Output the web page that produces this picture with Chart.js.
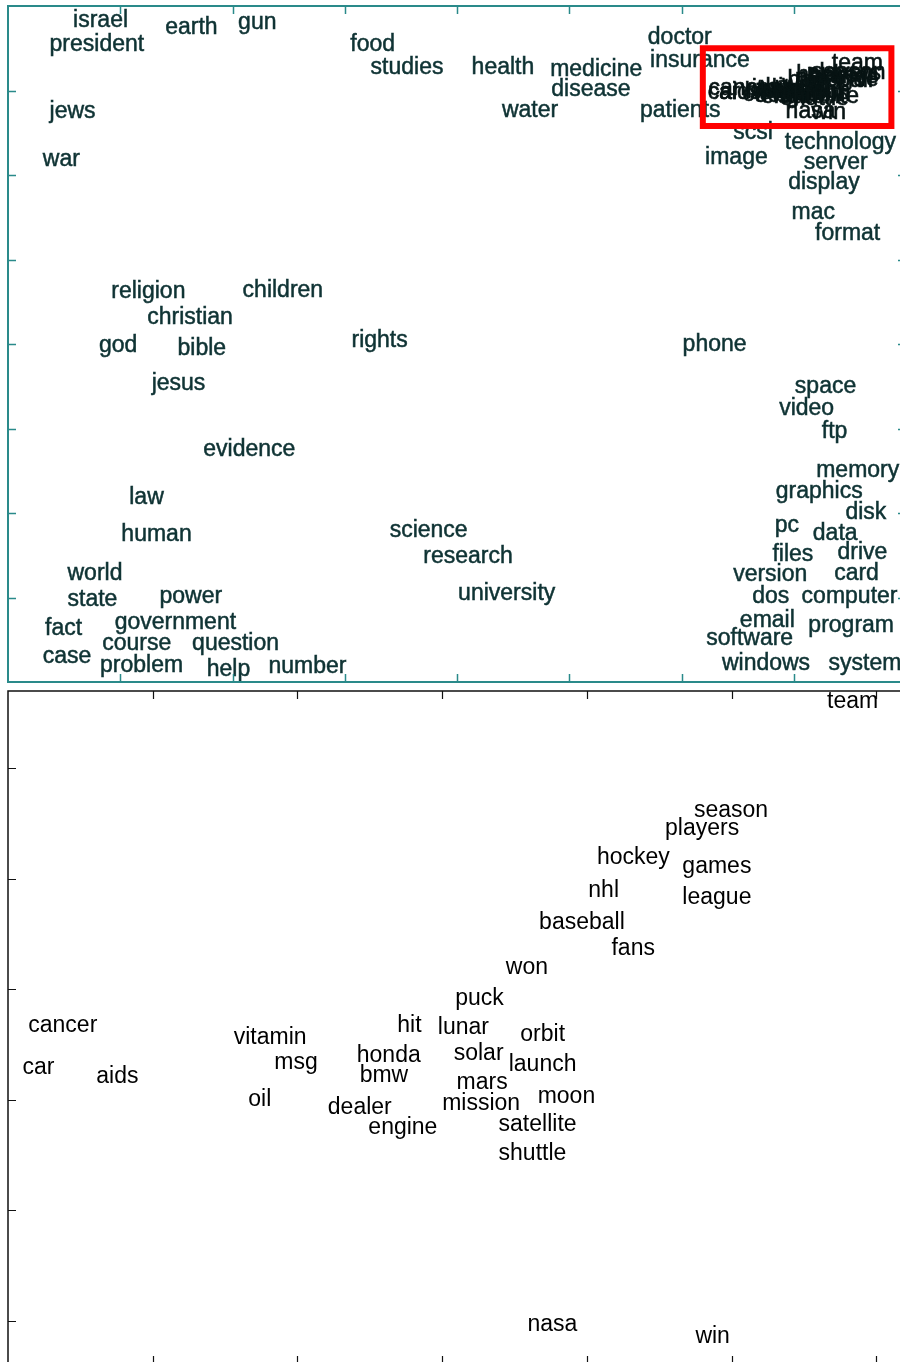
<!DOCTYPE html>
<html>
<head>
<meta charset="utf-8">
<script src="https://cdn.jsdelivr.net/npm/chart.js@4.4.1/dist/chart.umd.min.js"></script>
<style>
  html, body { margin: 0; padding: 0; background: #fff; overflow: hidden; width: 900px; height: 1362px; }
  #wrap { position: relative; width: 900px; height: 1362px; overflow: hidden; }
  #topChart { position: absolute; left: 0; top: 0; }
  #zoomChart { position: absolute; left: 0; top: 686px; }
</style>
</head>
<body>
<div id="wrap">
  <canvas id="topChart" width="910" height="686"></canvas>
  <canvas id="zoomChart" width="1030" height="690"></canvas>
</div>
<script>
// --- top panel: whole word map ---
const topWords = ['israel', 'president', 'earth', 'gun', 'food', 'studies', 'health', 'medicine', 'disease', 'water',
  'doctor', 'insurance', 'patients', 'scsi', 'technology', 'image', 'server', 'display', 'mac', 'format',
  'jews', 'war', 'religion', 'children', 'christian', 'god', 'bible', 'rights', 'jesus', 'phone',
  'space', 'video', 'ftp', 'evidence', 'law', 'human', 'science', 'research', 'university', 'world',
  'state', 'power', 'fact', 'government', 'course', 'question', 'case', 'problem', 'help', 'number',
  'memory', 'graphics', 'disk', 'pc', 'data', 'files', 'drive', 'version', 'card', 'dos',
  'computer', 'email', 'program', 'software', 'windows', 'system'];
const topX = [0.58, 0.37, 1.40, 2.05, 3.05, 3.23, 4.13, 4.83, 4.84, 4.40,
  5.70, 5.72, 5.63, 6.46, 6.92, 6.21, 7.09, 6.95, 6.98, 7.19,
  0.37, 0.31, 0.92, 2.09, 1.24, 0.81, 1.51, 3.06, 1.28, 6.01,
  7.01, 6.87, 7.25, 1.74, 1.08, 1.01, 3.40, 3.70, 4.01, 0.53,
  0.53, 1.35, 0.33, 0.95, 0.84, 1.64, 0.31, 0.82, 1.77, 2.32,
  7.20, 6.84, 7.46, 6.83, 7.17, 6.81, 7.39, 6.46, 7.36, 6.63,
  7.07, 6.52, 7.13, 6.22, 6.36, 7.31];
const topY = [7.83, 7.54, 7.74, 7.80, 7.54, 7.27, 7.27, 7.25, 7.01, 6.76,
  7.62, 7.35, 6.76, 6.50, 6.38, 6.20, 6.15, 5.91, 5.56, 5.30,
  6.75, 6.18, 4.62, 4.63, 4.31, 3.98, 3.94, 4.04, 3.53, 3.99,
  3.49, 3.24, 2.96, 2.75, 2.18, 1.74, 1.79, 1.48, 1.05, 1.28,
  0.98, 1.01, 0.63, 0.70, 0.45, 0.45, 0.30, 0.19, 0.15, 0.18,
  2.50, 2.25, 2.00, 1.85, 1.75, 1.51, 1.53, 1.27, 1.28, 1.01,
  1.01, 0.73, 0.67, 0.51, 0.22, 0.22];
const topTicksX = [1, 2, 3, 4, 5, 6, 7];
const topTicksY = [1, 2, 3, 4, 5, 6, 7];

// --- bottom panel: zoom on the red box ---
const zoomWords = ['team', 'season', 'players', 'hockey', 'games', 'nhl', 'league', 'baseball', 'fans', 'won',
  'puck', 'cancer', 'car', 'aids', 'vitamin', 'msg', 'oil', 'hit', 'lunar', 'orbit',
  'honda', 'solar', 'launch', 'bmw', 'mars', 'moon', 'mission', 'dealer', 'engine', 'satellite',
  'shuttle', 'nasa', 'win'];
const zoomX = [5.66, 4.74, 4.54, 4.07, 4.66, 4.01, 4.66, 3.67, 4.17, 3.44,
  3.09, 0.14, 0.10, 0.61, 1.56, 1.84, 1.66, 2.69, 2.97, 3.54,
  2.41, 3.08, 3.46, 2.43, 3.10, 3.66, 3.00, 2.21, 2.49, 3.39,
  3.39, 3.59, 4.75];
const zoomY = [6.60, 5.62, 5.45, 5.19, 5.11, 4.89, 4.83, 4.60, 4.37, 4.20,
  3.92, 3.67, 3.29, 3.21, 3.56, 3.34, 3.00, 3.67, 3.65, 3.59,
  3.40, 3.42, 3.32, 3.22, 3.16, 3.03, 2.97, 2.93, 2.75, 2.78,
  2.51, 0.97, 0.86];
const zoomTicksX = [1, 2, 3, 4, 5, 6];
const zoomTicksY = [1, 2, 3, 4, 5, 6];

// red box (top panel units) and how the zoom panel maps into it
const boxX = [6.19, 7.87];
const boxY = [6.58, 7.50];
const mapX = { offset: 6.213, scale: 0.199 };
const mapY = { offset: 6.646, scale: 0.101 };

function points(xs, ys) {
  return xs.map((x, i) => ({ x: x, y: ys[i] }));
}

// labels drawn at the positions the scatter elements got from the scales
const wordLabels = {
  id: 'wordLabels',
  afterDatasetsDraw(chart) {
    const ctx = chart.ctx;
    chart.data.datasets.forEach((ds, di) => {
      const meta = chart.getDatasetMeta(di);
      ctx.save();
      ctx.font = ds.labelFont;
      ctx.fillStyle = ds.labelColor;
      ctx.strokeStyle = ds.labelColor;
      ctx.lineWidth = ds.labelStroke || 0;
      ctx.textAlign = 'left';
      ctx.textBaseline = 'middle';
      meta.data.forEach((el, i) => {
        ctx.fillText(ds.words[i], el.x, el.y);
        if (ds.labelStroke) ctx.strokeText(ds.words[i], el.x, el.y);
      });
      ctx.restore();
    });
  }
};

// box frame with inward tick marks
const frameTicks = {
  id: 'frameTicks',
  afterDraw(chart, args, opts) {
    const ctx = chart.ctx;
    const a = chart.chartArea;
    const xs = chart.scales.x, ys = chart.scales.y;
    ctx.save();
    ctx.strokeStyle = opts.color;
    ctx.lineWidth = opts.width;
    ctx.strokeRect(a.left, a.top, a.right - a.left, a.bottom - a.top);
    ctx.lineWidth = opts.tickWidth;
    ctx.beginPath();
    opts.ticksX.forEach(v => {
      const px = Math.round(xs.getPixelForValue(v)) + 0.5;
      ctx.moveTo(px, a.top); ctx.lineTo(px, a.top + opts.len);
      ctx.moveTo(px, a.bottom); ctx.lineTo(px, a.bottom - opts.len);
    });
    opts.ticksY.forEach(v => {
      const py = Math.round(ys.getPixelForValue(v)) + 0.5;
      ctx.moveTo(a.left, py); ctx.lineTo(a.left + opts.len, py);
      ctx.moveTo(a.right, py); ctx.lineTo(a.right - opts.len, py);
    });
    ctx.stroke();
    if (opts.box) {
      ctx.strokeStyle = '#ff0000';
      ctx.lineWidth = 6;
      const x0 = xs.getPixelForValue(opts.box.x[0]), x1 = xs.getPixelForValue(opts.box.x[1]);
      const y0 = ys.getPixelForValue(opts.box.y[1]), y1 = ys.getPixelForValue(opts.box.y[0]);
      ctx.strokeRect(x0, y0, x1 - x0, y1 - y0);
    }
    ctx.restore();
  }
};

const baseOptions = {
  responsive: false,
  animation: false,
  events: [],
  plugins: { legend: { display: false }, tooltip: { enabled: false } }
};

// top panel
new Chart(document.getElementById('topChart'), {
  type: 'scatter',
  data: {
    datasets: [
      {
        data: points(topX, topY), words: topWords,
        labelFont: '23px "Liberation Sans", Arial, sans-serif', labelColor: '#0f3334', labelStroke: 0.5,
        pointRadius: 0
      },
      {
        data: zoomX.map((x, i) => ({ x: mapX.offset + x * mapX.scale, y: mapY.offset + zoomY[i] * mapY.scale })),
        words: zoomWords,
        labelFont: '23px "Liberation Sans", Arial, sans-serif', labelColor: '#081414', labelStroke: 0.6,
        pointRadius: 0
      }
    ]
  },
  options: Object.assign({}, baseOptions, {
    layout: { padding: { left: 8, top: 6, right: 4, bottom: 4 } },
    scales: {
      x: { type: 'linear', min: 0, max: 8, display: false },
      y: { type: 'linear', min: 0, max: 8, display: false }
    },
    plugins: Object.assign({}, baseOptions.plugins, {
      frameTicks: { color: '#2a8a8a', width: 2, tickWidth: 1.5, len: 8,
        ticksX: topTicksX, ticksY: topTicksY, box: { x: boxX, y: boxY } }
    })
  }),
  plugins: [wordLabels, frameTicks]
});

// bottom panel
new Chart(document.getElementById('zoomChart'), {
  type: 'scatter',
  data: {
    datasets: [{
      data: points(zoomX, zoomY), words: zoomWords,
      labelFont: '23px "Liberation Sans", Arial, sans-serif', labelColor: '#000',
      pointRadius: 0
    }]
  },
  options: Object.assign({}, baseOptions, {
    layout: { padding: { left: 8, top: 5, right: 9, bottom: 12 } },
    scales: {
      x: { type: 'linear', min: 0, max: 7, display: false },
      y: { type: 'linear', min: 0.61, max: 6.70, display: false }
    },
    plugins: Object.assign({}, baseOptions.plugins, {
      frameTicks: { color: '#111', width: 1.5, tickWidth: 1.2, len: 8,
        ticksX: zoomTicksX, ticksY: zoomTicksY }
    })
  }),
  plugins: [wordLabels, frameTicks]
});
</script>
</body>
</html>
